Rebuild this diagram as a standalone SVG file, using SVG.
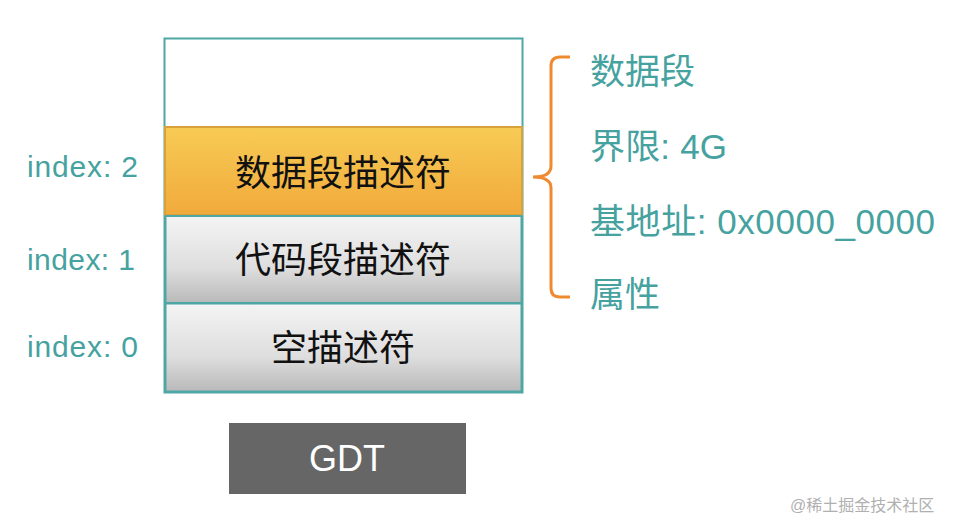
<svg xmlns="http://www.w3.org/2000/svg" width="968" height="532" viewBox="0 0 968 532">
<style>
.lbl{font-family:"Liberation Sans","Noto Sans CJK SC",sans-serif;fill:#46a29f;}
.idx{font-size:30px;}
.info{font-size:35px;}
.cell{font-family:"Noto Sans CJK SC",sans-serif;font-size:36px;fill:#111;text-anchor:middle;}
</style>
<defs>
<linearGradient id="gOrange" x1="0" y1="0" x2="0" y2="1">
<stop offset="0" stop-color="#f7cb55"/>
<stop offset="1" stop-color="#f1aa3c"/>
</linearGradient>
<linearGradient id="gGray" x1="0" y1="0" x2="0" y2="1">
<stop offset="0" stop-color="#f4f4f4"/>
<stop offset="0.6" stop-color="#dedede"/>
<stop offset="1" stop-color="#b9b9b9"/>
</linearGradient>
</defs>
<rect width="968" height="532" fill="#fff"/>
<g id="gdt-table">
<rect x="164.5" y="38.5" width="358" height="354" fill="#fff" stroke="#4fa7a5" stroke-width="2"/>
</g>
<g id="entry2">
<rect x="165" y="127" width="357" height="88" fill="url(#gOrange)" stroke="#d9a13c" stroke-width="2"/>
<text class="cell" x="343" y="186">数据段描述符</text>
</g>
<g id="entry1">
<rect x="165.5" y="216" width="356" height="87" fill="url(#gGray)" stroke="#4fa7a5" stroke-width="2"/>
<text class="cell" x="343" y="273">代码段描述符</text>
</g>
<g id="entry0">
<rect x="165.5" y="303.5" width="356" height="88" fill="url(#gGray)" stroke="#4fa7a5" stroke-width="2"/>
<text class="cell" x="343" y="361">空描述符</text>
</g>
<g id="indices">
<text class="lbl idx" x="27" y="177" textLength="111">index: 2</text>
<text class="lbl idx" x="27" y="270" textLength="108">index: 1</text>
<text class="lbl idx" x="27" y="357" textLength="111">index: 0</text>
</g>
<g id="connectors">
<path d="M570,57 H560 Q551,57 551,66 V166 Q551,177 533,177 Q551,177 551,188 V288 Q551,297 560,297 H570" fill="none" stroke="#f08a30" stroke-width="3"/>
</g>
<g id="info">
<text class="lbl info" x="590" y="84">数据段</text>
<text class="lbl info" x="590" y="159" textLength="137">界限: 4G</text>
<text class="lbl info" x="590" y="234" textLength="345">基地址: 0x0000_0000</text>
<text class="lbl info" x="590" y="307">属性</text>
</g>
<g id="gdt-label">
<rect x="229" y="423" width="237" height="71" fill="#666666"/>
<text x="347" y="471" font-family="Liberation Sans, sans-serif" font-size="36" fill="#fff" text-anchor="middle">GDT</text>
</g>
<text x="790" y="511" font-family="Liberation Sans, 'Noto Sans CJK SC', sans-serif" font-size="16" fill="#b0b0b0">@稀土掘金技术社区</text>
</svg>
